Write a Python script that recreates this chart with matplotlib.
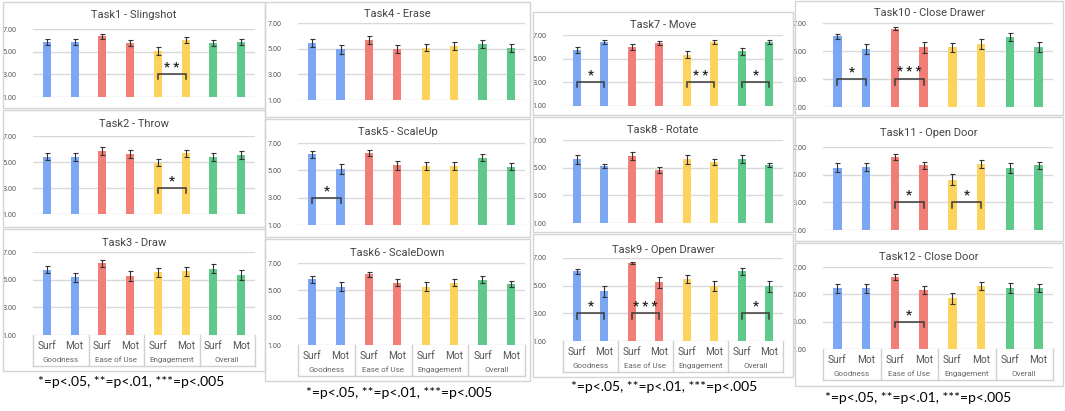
import matplotlib.pyplot as plt
from matplotlib.patches import Rectangle
from matplotlib.lines import Line2D
from matplotlib.transforms import blended_transform_factory, offset_copy
import numpy as np

W, H = 1065, 411

tasks = ['Task1 - Slingshot', 'Task2 - Throw', 'Task3 - Draw',
         'Task4 - Erase', 'Task5 - ScaleUp', 'Task6 - ScaleDown',
         'Task7 - Move', 'Task8 - Rotate', 'Task9 - Open Drawer',
         'Task10 - Close Drawer', 'Task11 - Open Door', 'Task12 - Close Door']
measures = ['Goodness', 'Ease of Use', 'Engagement', 'Overall']
conds = ['Surf', 'Mot']
colors = ['#7ba7f4', '#f17f77', '#fdd35c', '#5ec98a']
yticks = [1, 3, 5, 7]
footnote = '*=p<.05, **=p<.01, ***=p<.005'

# bar order: Goodness Surf/Mot, Ease of Use Surf/Mot, Engagement Surf/Mot, Overall Surf/Mot
means = [
    [5.85, 5.85, 6.35, 5.76, 5.06, 6.00, 5.76, 5.85],
    [5.40, 5.40, 5.86, 5.60, 4.96, 5.66, 5.40, 5.53],
    [5.72, 5.16, 6.20, 5.28, 5.52, 5.60, 5.79, 5.35],
    [5.45, 4.95, 5.65, 5.00, 5.06, 5.20, 5.37, 5.06],
    [6.16, 5.08, 6.28, 5.36, 5.32, 5.32, 5.92, 5.27],
    [5.80, 5.28, 6.16, 5.55, 5.28, 5.55, 5.78, 5.46],
    [5.71, 6.40, 6.00, 6.34, 5.34, 6.40, 5.63, 6.40],
    [5.60, 5.12, 5.84, 4.83, 5.60, 5.40, 5.65, 5.17],
    [6.03, 4.58, 6.64, 5.23, 5.47, 4.99, 6.03, 4.94],
    [6.04, 5.13, 6.59, 5.25, 5.25, 5.49, 5.97, 5.27],
    [5.51, 5.55, 6.28, 5.67, 4.64, 5.79, 5.48, 5.67],
    [5.43, 5.43, 6.27, 5.31, 4.70, 5.60, 5.48, 5.48],
]
errors = [
    [0.30, 0.25, 0.20, 0.28, 0.35, 0.25, 0.30, 0.25],
    [0.28, 0.30, 0.30, 0.32, 0.30, 0.28, 0.30, 0.28],
    [0.25, 0.35, 0.25, 0.38, 0.32, 0.32, 0.32, 0.38],
    [0.30, 0.35, 0.30, 0.30, 0.28, 0.30, 0.30, 0.30],
    [0.25, 0.35, 0.20, 0.35, 0.28, 0.30, 0.25, 0.28],
    [0.28, 0.30, 0.18, 0.25, 0.30, 0.25, 0.25, 0.25],
    [0.25, 0.15, 0.25, 0.18, 0.28, 0.18, 0.28, 0.18],
    [0.30, 0.18, 0.28, 0.22, 0.30, 0.22, 0.30, 0.15],
    [0.20, 0.40, 0.10, 0.38, 0.28, 0.35, 0.25, 0.38],
    [0.20, 0.35, 0.12, 0.38, 0.32, 0.35, 0.28, 0.35],
    [0.30, 0.28, 0.22, 0.28, 0.40, 0.30, 0.35, 0.28],
    [0.30, 0.32, 0.20, 0.32, 0.40, 0.30, 0.35, 0.30],
]
# significant Surf/Mot pairs: (measure index, stars)
signif = [
    [(2, 2)], [(2, 1)], [],
    [], [(0, 1)], [],
    [(0, 1), (2, 2), (3, 1)], [], [(0, 1), (1, 3), (3, 1)],
    [(0, 1), (1, 3)], [(1, 1), (2, 1)], [(1, 1)],
]

# layout in pixels: axes left, right, y of 7.00, y of 1.00, title y, panel box (x0, x1, y0, y1)
layout = [
    (33, 255, 29, 97, 15, (3, 265, 2, 108)),
    (33, 255, 136, 214, 124, (3, 265, 110, 227)),
    (33, 255, 252, 335, 243, (3, 265, 229, 371)),
    (298, 525, 23, 100, 14, (265, 530, 2, 117)),
    (298, 525, 143, 225, 132, (265, 530, 119, 237)),
    (298, 525, 263, 345, 253, (265, 530, 239, 381)),
    (563, 783, 35, 106, 25, (533, 793, 12, 115)),
    (563, 783, 140, 223, 130, (533, 793, 117, 232)),
    (563, 783, 258, 341, 250, (533, 793, 234, 377)),
    (823, 1053, 23, 107, 13, (795, 1063, 1, 115)),
    (823, 1053, 147, 230, 133, (795, 1063, 117, 241)),
    (823, 1053, 267, 349, 257, (795, 1063, 243, 386)),
]
foot_pos = [(131, 382), (399, 393), (664, 387), (918, 398)]

plt.rcParams['font.family'] = ['Roboto', 'DejaVu Sans']

fig = plt.figure(figsize=(W / 100, H / 100), dpi=100)

def fx(x):
    return x / W

def fy(y):
    return 1 - y / H

x = np.arange(8)
bar_colors = [c for c in colors for _ in conds]

for i, (xl, xr, y7, y1, ty, box) in enumerate(layout):
    bx0, bx1, by0, by1 = box
    fig.patches.append(Rectangle((fx(bx0), fy(by1)), fx(bx1 - bx0), (by1 - by0) / H,
                                 transform=fig.transFigure, fill=False,
                                 edgecolor='#d4d4d4', lw=1, zorder=0))
    fig.text(fx((bx0 + bx1) / 2), fy(ty), tasks[i], ha='center', va='center',
             fontsize=8, color='#444444')

    ax = fig.add_axes([fx(xl), fy(y1), (xr - xl) / W, (y1 - y7) / H])
    ax.set_xlim(-0.5, 7.5)
    ax.set_ylim(1, 7)
    ax.bar(x, np.array(means[i]) - 1, bottom=1, width=0.29, color=bar_colors, zorder=2)
    ax.errorbar(x, means[i], yerr=errors[i], fmt='none', ecolor='#333333',
                elinewidth=0.8, capsize=1.8, capthick=0.8, zorder=3)
    ax.set_yticks(yticks)
    ax.set_yticklabels([f'{v:.2f}' for v in yticks])
    ax.tick_params(axis='y', length=0, pad=12, labelsize=5.2, labelcolor='#555555')
    ax.set_xticks([])
    ax.grid(axis='y', color='#d9d9d9', lw=1, zorder=0)
    ax.set_axisbelow(True)
    for s in ax.spines.values():
        s.set_visible(False)
    ax.patch.set_alpha(0)

    # significance brackets
    for m, n in signif[i]:
        a, b = 2 * m, 2 * m + 1
        ax.plot([a, a, b, b], [2.6, 3.0, 3.0, 2.6], color='#3a3a3a', lw=1.1,
                zorder=4, solid_joinstyle='miter')
        ax.text((a + b) / 2, 3.05, ' '.join(['*'] * n), ha='center', va='bottom',
                fontsize=9.5, fontweight='bold', color='#222222', zorder=4)

    # multi-level category axis on the bottom row
    if i % 3 == 2:
        h = y1 - y7
        tr = blended_transform_factory(ax.transData, ax.transAxes)
        dy = 31 / h
        for sx in [-0.5, 1.5, 3.5, 5.5, 7.5]:
            ax.add_line(Line2D([sx, sx], [0, -dy], transform=tr, color='#d0d0d0',
                               lw=1, clip_on=False))
        ax.add_line(Line2D([-0.5, 7.5], [-dy, -dy], transform=tr, color='#d0d0d0',
                           lw=1, clip_on=False))
        t1 = offset_copy(tr, fig=fig, y=-11, units='dots')
        t2 = offset_copy(tr, fig=fig, y=-25, units='dots')
        for k in range(8):
            ax.text(k, 0, conds[k % 2], transform=t1, ha='center', va='center',
                    fontsize=7.3, color='#555555')
        for k, name in enumerate(measures):
            ax.text(2 * k + 0.5, 0, name, transform=t2, ha='center', va='center',
                    fontsize=5.8, color='#666666')

for px, py in foot_pos:
    fig.text(fx(px), fy(py), footnote, ha='center', va='center', fontsize=10,
             color='black', family=['Lato', 'DejaVu Sans'])

fig.savefig('out.png', dpi=100)
